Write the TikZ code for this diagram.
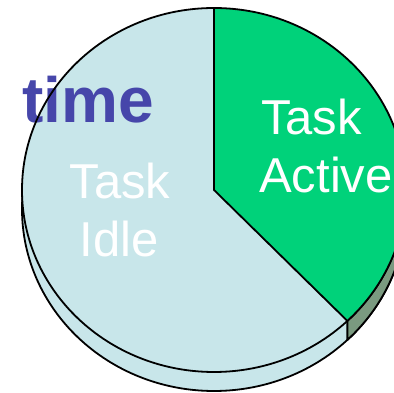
\documentclass[tikz,border=0pt]{standalone}
\usepackage{fontspec}
\setmainfont{Liberation Sans}
\usetikzlibrary{calc}
\definecolor{idleblue}{HTML}{C8E6EA}
\definecolor{activegreen}{HTML}{00D27A}
\definecolor{sidegreen}{HTML}{7A9A80}
\definecolor{titleblue}{HTML}{4646AA}
\begin{document}
\begin{tikzpicture}[x=1pt,y=1pt,
  edge/.style={draw=black,line width=1.8pt,line join=round},
  label/.style={text=white,inner sep=0pt,font=\fontsize{49}{58}\selectfont}]
\useasboundingbox (0,0) rectangle (394,393);
\clip (0,0) rectangle (394,393);
% pie geometry: top face centre, radii, depth of the disc
\coordinate (c) at (214,203);
\coordinate (cl) at (214,184);
\def\rx{192}\def\ry{182}\def\cut{-46}
% lower face of the disc
\filldraw[idleblue,edge] (cl) ellipse[x radius=\rx, y radius=\ry];
% side of the active slice
\filldraw[fill=sidegreen,edge] ($(c)+(\cut:\rx pt and \ry pt)$) arc[start angle=\cut,end angle=0,x radius=\rx,y radius=\ry]
  -- ($(cl)+(0:\rx pt and \ry pt)$) arc[start angle=0,end angle=\cut,x radius=\rx,y radius=\ry] -- cycle;
% top face: idle and active slices
\fill[idleblue] (c) ellipse[x radius=\rx, y radius=\ry];
\fill[activegreen] (c) -- ($(c)+(90:\rx pt and \ry pt)$)
  arc[start angle=90,end angle=\cut,x radius=\rx,y radius=\ry] -- cycle;
% labels
\node[anchor=base west,inner sep=0pt,text=titleblue,font=\fontsize{64}{64}\selectfont\bfseries] (time) at (22,270) {time};
\node[label,anchor=base] (idle1) at (120,194) {Task};
\node[label,anchor=base] (idle2) at (119,136) {Idle};
\node[label,anchor=base west] (act1) at (261,258) {Task};
\node[label,anchor=base west] (act2) at (259,200) {Active};
% outlines of the top face
\draw[edge] (c) ellipse[x radius=\rx, y radius=\ry];
\draw[edge] ($(c)+(90:\rx pt and \ry pt)$) -- (c) -- ($(c)+(\cut:\rx pt and \ry pt)$);
\end{tikzpicture}
\end{document}
